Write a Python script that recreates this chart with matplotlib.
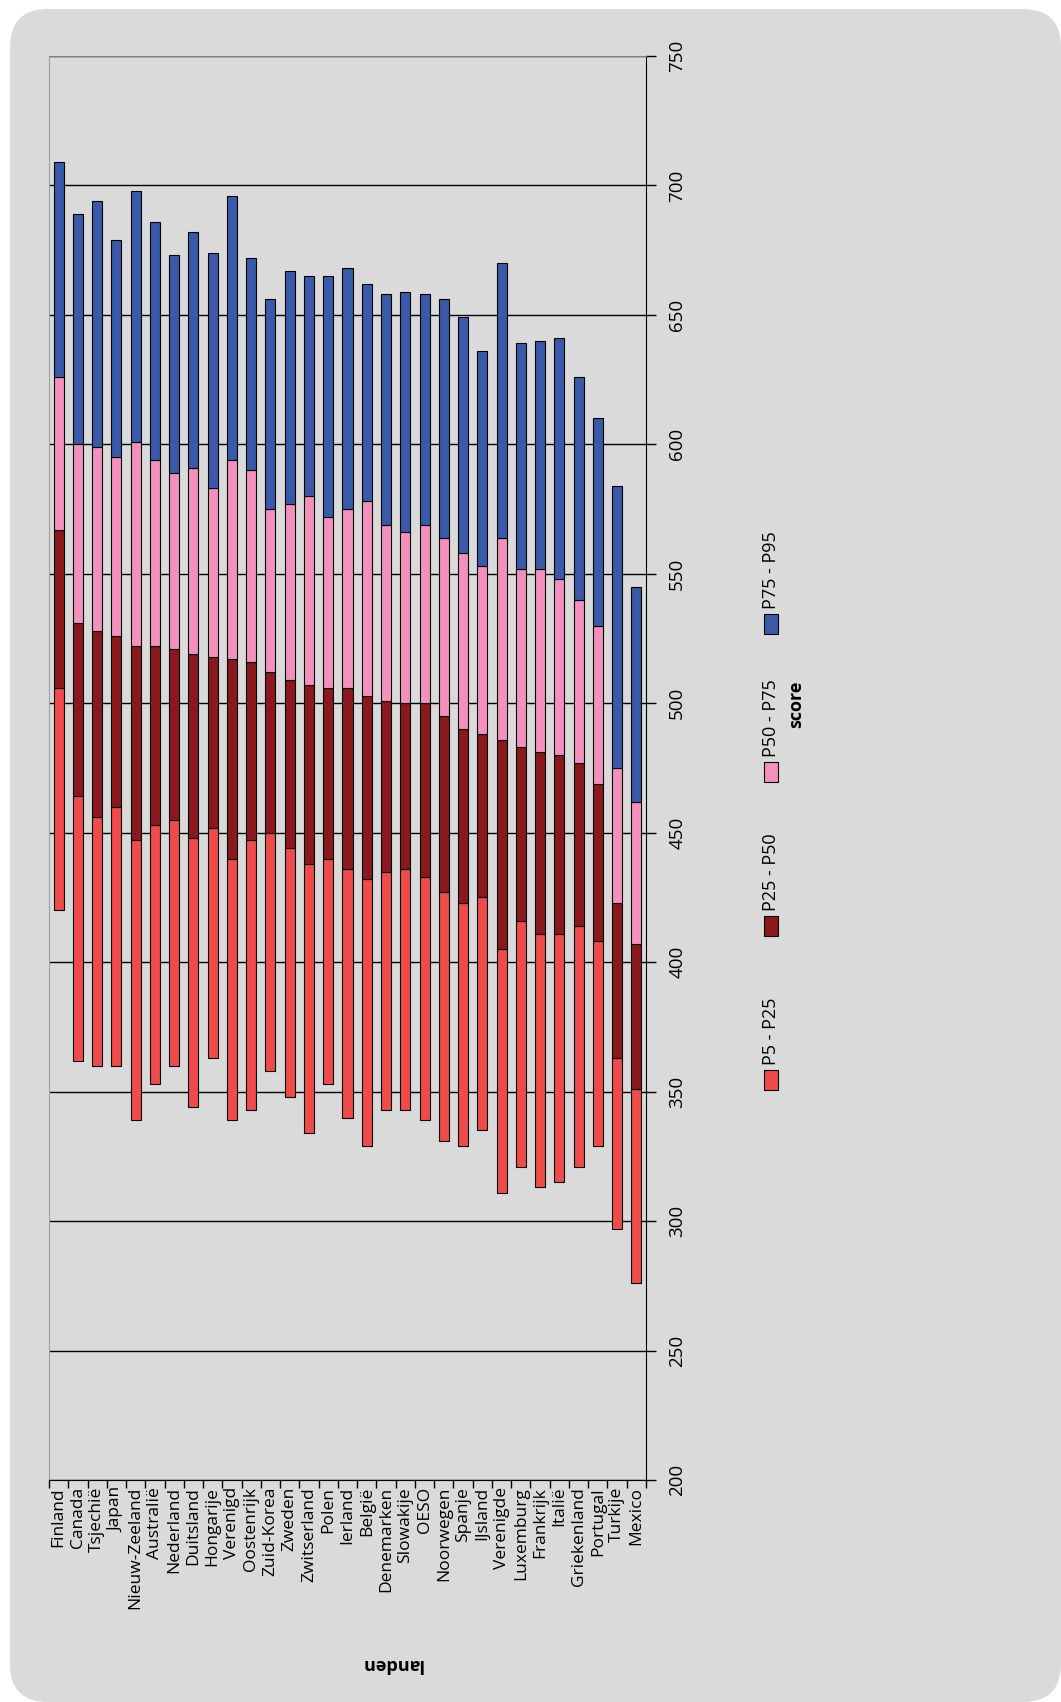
import numpy as np
import matplotlib
matplotlib.use("Agg")
from matplotlib import pyplot as plt
from matplotlib.patches import FancyBboxPatch, Rectangle
from matplotlib.transforms import IdentityTransform

plt.rcParams['font.family'] = ['Open Sans', 'DejaVu Sans']

landen = ['Finland', 'Canada', 'Tsjechië', 'Japan', 'Nieuw-Zeeland', 'Australië',
          'Nederland', 'Duitsland', 'Hongarije', 'Verenigd', 'Oostenrijk',
          'Zuid-Korea', 'Zweden', 'Zwitserland', 'Polen', 'Ierland', 'België',
          'Denemarken', 'Slowakije', 'OESO', 'Noorwegen', 'Spanje', 'IJsland',
          'Verenigde', 'Luxemburg', 'Frankrijk', 'Italië', 'Griekenland',
          'Portugal', 'Turkije', 'Mexico']

# percentielen (score)
p5 = [420, 362, 360, 360, 339, 353, 360, 344, 363, 339, 343, 358, 348, 334, 353, 340,
      329, 343, 343, 339, 331, 329, 335, 311, 321, 313, 315, 321, 329, 297, 276]
p25 = [506, 464, 456, 460, 447, 453, 455, 448, 452, 440, 447, 450, 444, 438, 440, 436,
       432, 435, 436, 433, 427, 423, 425, 405, 416, 411, 411, 414, 408, 363, 351]
p50 = [567, 531, 528, 526, 522, 522, 521, 519, 518, 517, 516, 512, 509, 507, 506, 506,
       503, 501, 500, 500, 495, 490, 488, 486, 483, 481, 480, 477, 469, 423, 407]
p75 = [626, 600, 599, 595, 601, 594, 589, 591, 583, 594, 590, 575, 577, 580, 572, 575,
       578, 569, 566, 569, 564, 558, 553, 564, 552, 552, 548, 540, 530, 475, 462]
p95 = [709, 689, 694, 679, 698, 686, 673, 682, 674, 696, 672, 656, 667, 665, 665, 668,
       662, 658, 659, 658, 656, 649, 636, 670, 639, 640, 641, 626, 610, 584, 545]

reeksen = ['P5 - P25', 'P25 - P50', 'P50 - P75', 'P75 - P95']
kleuren = ['#ef4b4a', '#8a181c', '#f490bd', '#3a59a8']

W, H = 1061, 1702
GRIJS = '#dadada'


def fx(x):
    return x / W


def fy(y):
    return 1 - y / H


fig = plt.figure(figsize=(W / 100, H / 100), dpi=100, facecolor='white')

# grijze achtergrond met ronde hoeken
bg = FancyBboxPatch((10, 0), 1051, 1693, boxstyle='round,pad=0,rounding_size=38',
                    transform=IdentityTransform(), facecolor=GRIJS, edgecolor='none', zorder=-10)
fig.add_artist(bg)

ax = fig.add_axes([fx(49), fy(1480), fx(646) - fx(49), fy(56) - fy(1480)])
ax.set_facecolor(GRIJS)

x = np.arange(len(landen))
onder = np.array(p5)
grenzen = [np.array(p25), np.array(p50), np.array(p75), np.array(p95)]
for boven, kleur in zip(grenzen, kleuren):
    ax.bar(x, boven - onder, bottom=onder, width=0.52, color=kleur,
           edgecolor='black', linewidth=0.8, zorder=3)
    onder = boven

ax.set_xlim(-0.5, len(landen) - 0.5)
ax.set_ylim(200, 750)
ax.set_yticks(np.arange(200, 751, 50))
ax.yaxis.tick_right()
ax.tick_params(axis='y', direction='out', length=7, width=1, labelsize=13.5,
               labelrotation=90, pad=9)
for lab in ax.get_yticklabels():
    lab.set_va('center')
ax.grid(axis='y', color='black', linewidth=1)
ax.set_axisbelow(True)

ax.set_xticks(x)
ax.set_xticklabels(landen, rotation=90, fontsize=12.5)
ax.set_xticks(np.arange(-0.5, len(landen)), minor=True)
ax.tick_params(axis='x', which='major', length=0, pad=5)
ax.tick_params(axis='x', which='minor', direction='out', length=6, width=1)

ax.spines['left'].set_color('#a0a0a4')
ax.spines['top'].set_color('#808080')
ax.spines['right'].set_color('black')
ax.spines['bottom'].set_color('black')

fig.text(fx(392), fy(1664), 'landen', rotation=180, fontsize=13, fontweight='bold',
         ha='center', va='center')
fig.text(fx(796), fy(704), 'score', rotation=90, fontsize=13, fontweight='bold',
         ha='center', va='center')

# legenda
midden = [1080, 926, 772, 624]
for naam, kleur, ym in zip(reeksen, kleuren, midden):
    fig.add_artist(Rectangle((fx(764), fy(ym + 10)), fx(778) - fx(764), fy(ym - 10) - fy(ym + 10),
                             transform=fig.transFigure, facecolor=kleur,
                             edgecolor='black', linewidth=0.8))
    fig.text(fx(771), fy(ym - 15), naam, rotation=90, rotation_mode='anchor',
             ha='left', va='center', fontsize=13)

fig.savefig('out.png', dpi=100, facecolor='white')
